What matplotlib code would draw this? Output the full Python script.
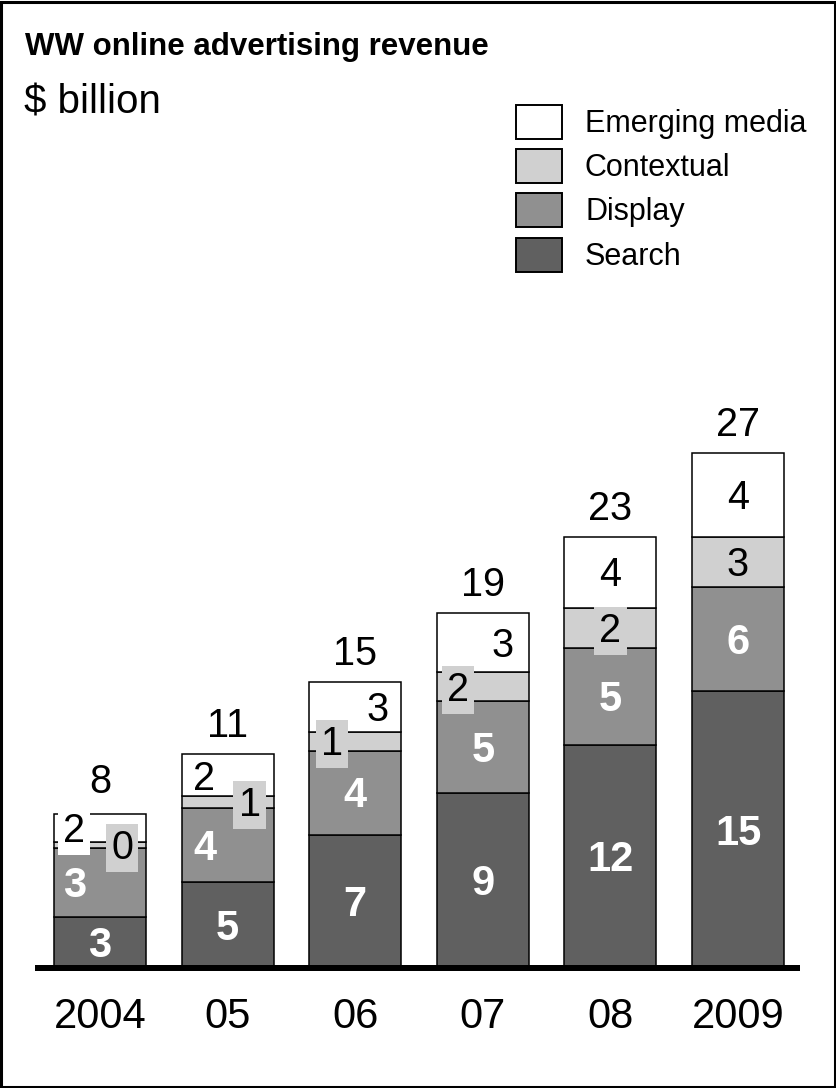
import matplotlib
matplotlib.use('Agg')
import matplotlib.pyplot as plt
from matplotlib.patches import Rectangle
import numpy as np

# ---------------- data ----------------
years = ['2004', '05', '06', '07', '08', '2009']
series = ['Search', 'Display', 'Contextual', 'Emerging media']
search = [2.7, 4.5, 7.0, 9.2, 11.7, 14.5]
display = [3.6, 3.9, 4.4, 4.8, 5.1, 5.5]
contextual = [0.3, 0.6, 1.0, 1.5, 2.1, 2.6]
emerging = [1.5, 2.2, 2.6, 3.1, 3.7, 4.4]
search_labels = ['3', '5', '7', '9', '12', '15']
display_labels = ['3', '4', '4', '5', '5', '6']
contextual_labels = ['0', '1', '1', '2', '2', '3']
emerging_labels = ['2', '2', '3', '3', '4', '4']
total_labels = ['8', '11', '15', '19', '23', '27']

# ---------------- style ----------------
colors = ['#606060', '#909090', '#d0d0d0', '#ffffff']
text_colors = ['white', 'white', 'black', 'black']
bold = [True, True, False, False]
font_sizes = [30, 30, 28.5, 28.5]
# horizontal label offsets in pixels per series
label_dx = [
    [0, 0, 0, 0, 0, 0],
    [-25, -23, 0, 0, 0, 0],
    [22, 22, -23, -25, 0, 0],
    [-26, -24, 22, 20, 0, 0],
]
# background box for label (None = none)
label_box = [
    [None] * 6,
    [None] * 6,
    ['#d0d0d0', '#d0d0d0', '#d0d0d0', '#d0d0d0', '#d0d0d0', None],
    ['#ffffff', None, None, None, None, None],
]
total_gap_px = [21, 17, 17, 17, 17, 17]

FONT = 'Liberation Sans'
W, H, DPI = 836, 1088, 100
PX = 72.0 / DPI  # points per pixel

fig = plt.figure(figsize=(W / DPI, H / DPI), dpi=DPI)
base_px = 968
top_px = 400
unit_px = 19.07
step_px = 127.6
first_px = 100
ax = fig.add_axes([0, (H - base_px) / H, 1, (base_px - top_px) / H])
ax.set_ylim(0, (base_px - top_px) / unit_px)
ax.set_xlim(-first_px / step_px, (W - first_px) / step_px)
for s in ax.spines.values():
    s.set_visible(False)
ax.set_yticks([])
ax.patch.set_alpha(0)

x = np.arange(len(years))
data = [search, display, contextual, emerging]
labels = [search_labels, display_labels, contextual_labels, emerging_labels]
bottom = np.zeros(len(years))
bar_w = 92 / step_px
for k, vals in enumerate(data):
    vals = np.array(vals)
    fs_in = font_sizes[k]
    ax.bar(x, vals, bar_w, bottom=bottom, color=colors[k], edgecolor='black',
           linewidth=1.1, zorder=2)
    for i in range(len(years)):
        yc = bottom[i] + vals[i] / 2
        kw = dict(fontsize=fs_in, color=text_colors[k], family=FONT,
                  fontweight='bold' if bold[k] else 'normal',
                  ha='center', va='baseline', zorder=6)
        if label_box[k][i] is not None:
            kw['bbox'] = dict(boxstyle='square,pad=0.13', fc=label_box[k][i], ec='none')
        ax.annotate(labels[k][i], xy=(x[i], yc), xycoords='data',
                    xytext=(label_dx[k][i] * PX, -0.716 * fs_in / 2),
                    textcoords='offset points', annotation_clip=False, **kw)
    bottom = bottom + vals

for i in range(len(years)):
    ax.annotate(total_labels[i], xy=(x[i], bottom[i]), xycoords='data',
                xytext=(0, total_gap_px[i] * PX), textcoords='offset points',
                ha='center', va='baseline', fontsize=28.5, family=FONT, color='black')

# baseline
ax.plot([-(first_px - 35) / step_px, (800 - first_px) / step_px], [0, 0],
        color='black', linewidth=6 * PX, solid_capstyle='butt', zorder=5,
        clip_on=False)

ax.set_xticks(x)
ax.set_xticklabels(years, fontsize=30, family=FONT)
ax.tick_params(axis='x', length=0, pad=29 * PX)

# title
fig.text(25 / W, 1 - 55 / H, 'WW online advertising revenue', fontsize=22.5,
         fontweight='bold', family=FONT, va='baseline', ha='left')
fig.text(24 / W, 1 - 114 / H, '$ billion', fontsize=29, family=FONT,
         va='baseline', ha='left')

# legend (manual)
leg_tops = [105, 149, 193, 238]
for j, k in enumerate([3, 2, 1, 0]):
    t = leg_tops[j]
    fig.patches.append(Rectangle((516 / W, 1 - (t + 34) / H), 46 / W, 34 / H,
                                 transform=fig.transFigure, facecolor=colors[k],
                                 edgecolor='black', linewidth=1.4))
    fig.text(585 / W, 1 - (t + 27) / H, series[k], fontsize=22, family=FONT,
             va='baseline', ha='left')

# figure border
fig.patches.append(Rectangle((1 / W, 1 / H), (W - 2.5) / W, (H - 2.5) / H,
                             transform=fig.transFigure, fill=False,
                             edgecolor='black', linewidth=2.2))

fig.savefig('out.png', dpi=DPI)
